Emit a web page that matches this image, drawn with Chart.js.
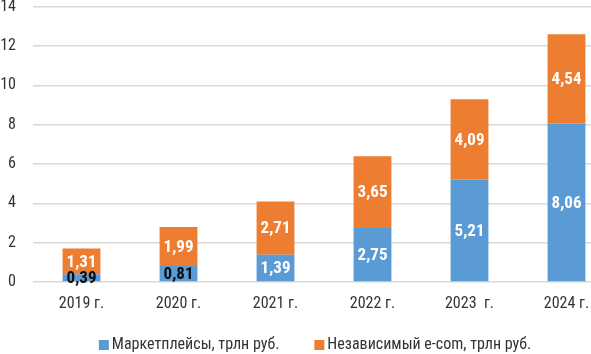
<!DOCTYPE html>
<html>
<head>
<meta charset="utf-8">
<script src="https://cdn.jsdelivr.net/npm/chart.js@4"></script>
<style>
    html, body { margin: 0; padding: 0; overflow: hidden; background: #fff; }
    #wrap { width: 628px; height: 354px; }
</style>
</head>
<body>
<div id="wrap"><canvas id="chart" width="628" height="354"></canvas></div>
<script>
const categories = ['2019 г.', '2020 г.', '2021 г.', '2022 г.', '2023  г.', '2024 г.'];
const marketplaces = [0.39, 0.81, 1.39, 2.75, 5.21, 8.06];
const independentEcom = [1.31, 1.99, 2.71, 3.65, 4.09, 4.54];
const seriesNames = ['Маркетплейсы, трлн руб.', 'Независимый e-com, трлн руб.'];
const seriesColors = ['#5b9bd5', '#ed7d31'];
const yMin = 0;
const yMax = 14;
const yStep = 2;

const FONT = '"Roboto Condensed", "DejaVu Sans Condensed", sans-serif';

// подписи значений внутри сегментов
const valueLabels = {
    id: 'valueLabels',
    afterDatasetsDraw(chart) {
        const ctx = chart.ctx;
        ctx.save();
        ctx.font = 'bold 17px ' + FONT;
        ctx.textAlign = 'center';
        ctx.textBaseline = 'middle';
        chart.data.datasets.forEach(function(ds, i) {
            chart.getDatasetMeta(i).data.forEach(function(bar, j) {
                const v = ds.data[j];
                ctx.fillStyle = v < 1 ? '#0d0d0d' : '#ffffff';
                ctx.fillText(v.toFixed(2).replace('.', ','), bar.x, (bar.y + bar.base) / 2 + 1);
            });
        });
        ctx.restore();
    }
};

// легенда снизу, как в исходнике
const bottomLegend = {
    id: 'bottomLegend',
    afterDraw(chart) {
        const ctx = chart.ctx;
        const box = 10, gapText = 3, gapItem = 35, y = 345;
        ctx.save();
        ctx.font = '16px ' + FONT;
        ctx.textBaseline = 'middle';
        const widths = seriesNames.map(function(name) { return box + gapText + ctx.measureText(name).width; });
        const total = widths.reduce(function(a, b) { return a + b; }, 0) + gapItem * (widths.length - 1);
        let x = 315 - total / 2;
        seriesNames.forEach(function(name, i) {
            ctx.fillStyle = seriesColors[i];
            ctx.fillRect(x, y - box / 2, box, box);
            ctx.fillStyle = '#333333';
            ctx.fillText(name, x + box + gapText, y);
            x += widths[i] + gapItem;
        });
        ctx.restore();
    }
};

new Chart(document.getElementById('chart'), {
    type: 'bar',
    data: {
        labels: categories,
        datasets: [
            { label: seriesNames[0], data: marketplaces, backgroundColor: seriesColors[0], borderWidth: 0 },
            { label: seriesNames[1], data: independentEcom, backgroundColor: seriesColors[1], borderWidth: 0 }
        ]
    },
    options: {
        responsive: false,
        animation: false,
        layout: { padding: { top: 0, left: 0, right: 13, bottom: 38 } },
        datasets: { bar: { categoryPercentage: 1, barPercentage: 0.39 } },
        plugins: { legend: { display: false }, tooltip: { enabled: false } },
        scales: {
            x: {
                stacked: true,
                grid: { display: false, drawTicks: false },
                border: { display: false },
                ticks: { color: '#333333', padding: 12, font: { family: FONT, size: 16 } },
                afterFit: function(scale) { scale.height = 34; }
            },
            y: {
                stacked: true,
                min: yMin,
                max: yMax,
                grid: { color: '#d9d9d9', lineWidth: 1.5, drawTicks: true, tickLength: 17, tickColor: 'rgba(0,0,0,0)' },
                border: { display: false },
                ticks: { stepSize: yStep, color: '#333333', padding: 0, font: { family: FONT, size: 16, lineHeight: 0.85 } },
                afterFit: function(scale) { scale.width = 33; }
            }
        }
    },
    plugins: [valueLabels, bottomLegend]
});
</script>
</body>
</html>
